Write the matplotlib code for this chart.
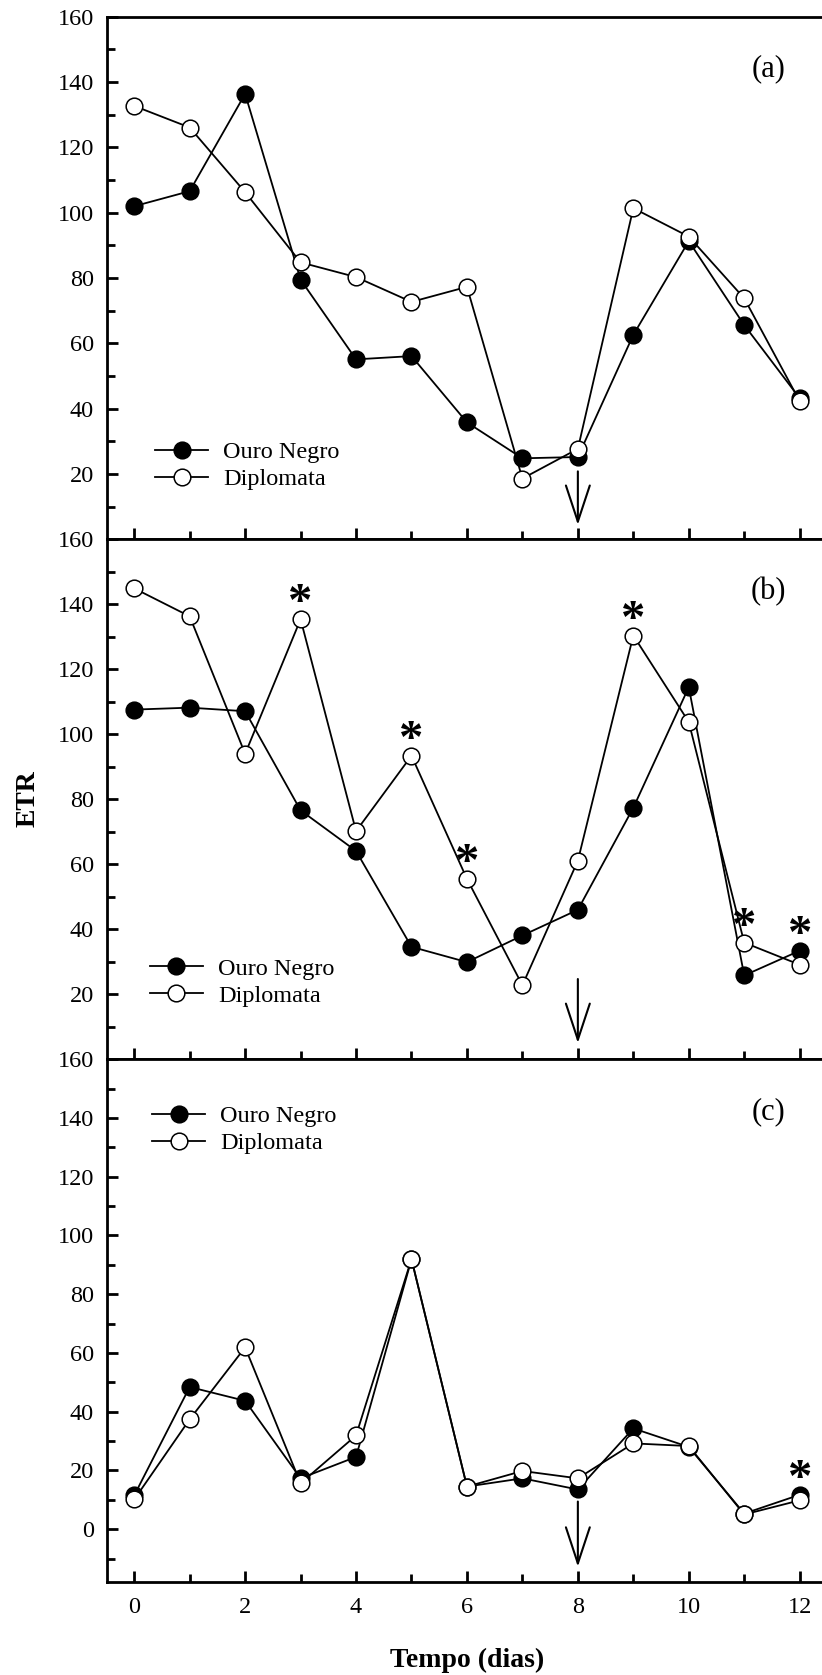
import matplotlib
matplotlib.use('Agg')
import matplotlib.pyplot as plt
from matplotlib.ticker import MultipleLocator
import numpy as np

# dados (ETR ao longo do tempo)
dias = list(range(13))

ouro_a = [102.0, 106.6, 136.4, 79.5, 55.1, 56.1, 35.8, 24.8, 25.2, 62.6, 91.3, 65.6, 43.2]
dipl_a = [132.7, 126.1, 106.3, 84.8, 80.3, 72.7, 77.3, 18.6, 27.7, 101.4, 92.7, 73.8, 42.3]

ouro_b = [107.6, 108.2, 107.1, 76.6, 64.1, 34.6, 29.9, 38.1, 46.0, 77.4, 114.5, 25.8, 33.4]
dipl_b = [144.9, 136.3, 94.0, 135.4, 70.2, 93.4, 55.5, 22.8, 61.1, 130.4, 103.8, 35.9, 29.1]

ouro_c = [11.5, 48.4, 43.7, 17.3, 24.6, 91.9, 14.5, 17.3, 13.5, 34.3, 28.0, 5.3, 11.7]
dipl_c = [10.1, 37.4, 61.9, 15.6, 31.9, 92.0, 14.5, 19.8, 17.3, 29.2, 28.3, 5.0, 9.8]

# dias com diferenca significativa (*)
sig_a = []
sig_b = [3, 5, 6, 9, 11, 12]
sig_c = [12]

painel = ['(a)', '(b)', '(c)']
nomes = ['Ouro Negro', 'Diplomata']
dia_seta = 8

plt.rcParams['font.family'] = ['Liberation Serif', 'DejaVu Serif']

fig = plt.figure(figsize=(8.22, 16.75), dpi=100)
left = 106.5/822.
width = 720.9/822.
ax1 = fig.add_axes([left, 1-539.3/1675., width, 522.5/1675.])
ax2 = fig.add_axes([left, 1-1059.3/1675., width, 520.0/1675.])
ax3 = fig.add_axes([left, 1-1582.0/1675., width, 522.7/1675.])

series = [(ax1, ouro_a, dipl_a, sig_a), (ax2, ouro_b, dipl_b, sig_b), (ax3, ouro_c, dipl_c, sig_c)]
setas = [(20.8, 4.4), (24.7, 5.0), (9.4, -12.8)]
leg_pos = [('lower left', (0.067, 0.094)), ('lower left', (0.06, 0.101)), ('upper left', (0.063, 0.912))]

for i, (ax, ouro, dipl, sig) in enumerate(series):
    l1, = ax.plot(dias, ouro, '-o', color='k', lw=1.3, ms=12, mfc='k', mec='k', mew=1.1, label=nomes[0], zorder=3)
    l2, = ax.plot(dias, dipl, '-o', color='k', lw=1.3, ms=12, mfc='w', mec='k', mew=1.1, label=nomes[1], zorder=4)

    for d in sig:
        ytop = max(ouro[d], dipl[d])
        ax.annotate('*', xy=(d, ytop), xytext=(0, 2), textcoords='offset points',
                    ha='center', va='baseline', fontsize=35, fontweight='bold', zorder=5)

    ax.annotate('', xy=(dia_seta, setas[i][1]), xytext=(dia_seta, setas[i][0]),
                arrowprops=dict(arrowstyle='->,head_length=1.3,head_width=0.43', lw=1.5, color='k',
                                shrinkA=0, shrinkB=0, mutation_scale=20))

    ax.text(0.918, 0.9, painel[i], transform=ax.transAxes, ha='center', va='center', fontsize=22)

    loc, anc = leg_pos[i]
    ax.legend(handles=[l1, l2], loc=loc, bbox_to_anchor=anc, frameon=False, fontsize=17.5,
              handlelength=2.2, handletextpad=0.6, borderpad=0, borderaxespad=0,
              labelspacing=0.2, numpoints=1)

    ax.set_xlim(-0.5, 12.5)
    ax.xaxis.set_major_locator(MultipleLocator(2))
    ax.xaxis.set_minor_locator(MultipleLocator(1))
    ax.yaxis.set_minor_locator(MultipleLocator(10))
    ax.tick_params(which='both', direction='in', width=2, labelsize=17.5, pad=9)
    ax.tick_params(axis='x', pad=11)
    ax.tick_params(which='major', length=8)
    ax.tick_params(which='minor', length=5.5)
    ax.tick_params(axis='both', which='both', right=False, top=False)
    for s in ax.spines.values():
        s.set_linewidth(2)
    ax.spines['right'].set_visible(False)

ax1.set_ylim(0, 160)
ax2.set_ylim(0, 160)
ax3.set_ylim(-18, 160)
ax1.set_yticks(range(20, 161, 20))
ax2.set_yticks(range(20, 161, 20))
ax3.set_yticks(range(0, 161, 20))
ax1.tick_params(labelbottom=False)
ax2.tick_params(labelbottom=False)

fig.text(28.0/822., 1-798.6/1675., 'ETR', rotation=90, ha='center', va='center', fontsize=20, fontweight='bold')
fig.text(466.7/822., 1-1660.5/1675., 'Tempo (dias)', ha='center', va='center', fontsize=20, fontweight='bold')

fig.savefig('out.png', dpi=100)
